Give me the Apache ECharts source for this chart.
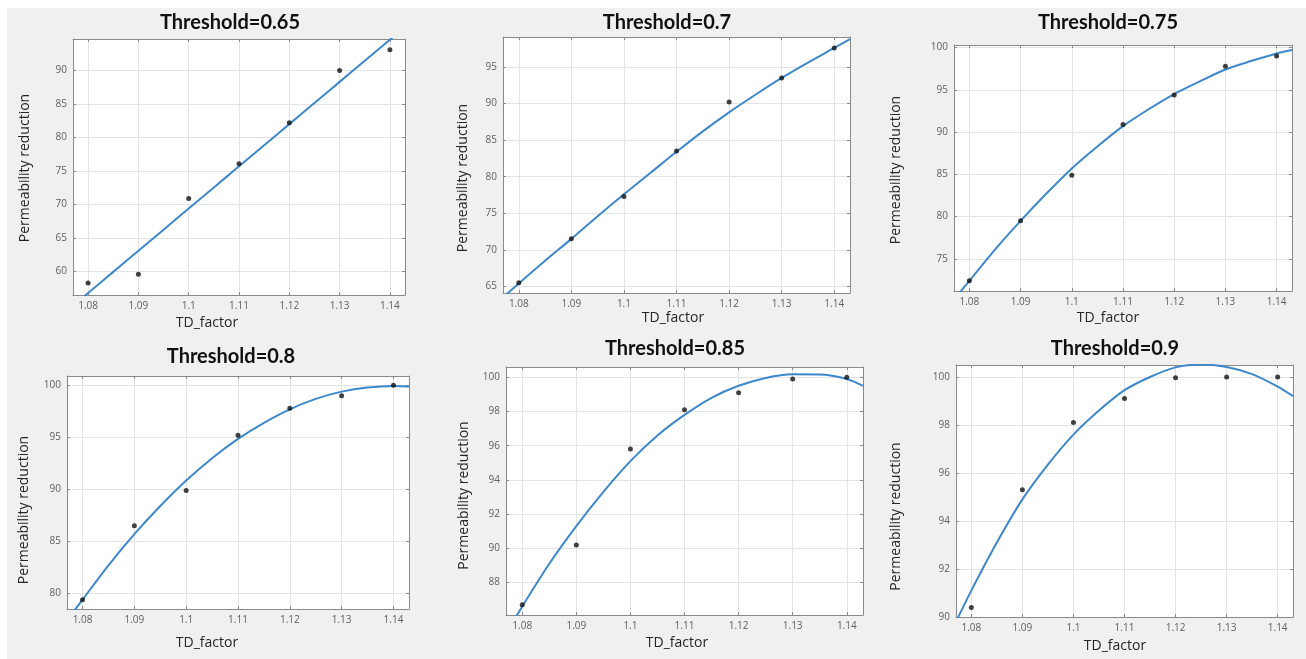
<!DOCTYPE html>
<html>
<head>
<meta charset="utf-8">
<script src="https://cdn.jsdelivr.net/npm/echarts@6/dist/echarts.min.js"></script>
<style>
html,body{margin:0;padding:0;background:#fff;}
#chart{width:1306px;height:659px;}
</style>
</head>
<body>
<div id="chart"></div>
<script>
// ---- data ----
const tdFactor = [1.08, 1.09, 1.10, 1.11, 1.12, 1.13, 1.14];
const xTicks = [1.08, 1.09, 1.10, 1.11, 1.12, 1.13, 1.14];
const xRange = [1.077, 1.143];
const titles = ['Threshold=0.65', 'Threshold=0.7', 'Threshold=0.75', 'Threshold=0.8', 'Threshold=0.85', 'Threshold=0.9'];
const xAxisName = 'TD_factor';
const yAxisName = 'Permeability reduction';

// measured points
const points065 = [58.3, 59.6, 70.9, 76.1, 82.2, 90.0, 93.1];
const points070 = [65.5, 71.5, 77.3, 83.5, 90.2, 93.5, 97.6];
const points075 = [72.4, 79.5, 84.9, 90.9, 94.4, 97.8, 99.0];
const points080 = [79.4, 86.5, 89.9, 95.2, 97.8, 99.0, 100.0];
const points085 = [86.7, 90.2, 95.8, 98.1, 99.1, 99.9, 100.0];
const points090 = [90.4, 95.3, 98.1, 99.1, 99.97, 100.0, 100.0];

// fitted curves at these x values
const fitX = [1.077, 1.08, 1.085, 1.09, 1.095, 1.10, 1.105, 1.11, 1.115, 1.12, 1.125, 1.13, 1.135, 1.14, 1.143];
const fit065 = [54.9, 56.8, 59.95, 63.1, 66.25, 69.4, 72.55, 75.7, 78.85, 82.0, 85.15, 88.3, 91.45, 94.6, 96.5];
const fit070 = [63.5, 65.4, 68.5, 71.5, 74.6, 77.6, 80.5, 83.4, 86.2, 88.8, 91.2, 93.5, 95.6, 97.6, 98.8];
const fit075 = [70.2, 72.4, 76.1, 79.5, 82.7, 85.7, 88.3, 90.7, 92.7, 94.5, 96.0, 97.4, 98.4, 99.3, 99.7];
const fit080 = [77.4, 79.4, 82.7, 85.7, 88.4, 90.85, 93.0, 94.85, 96.4, 97.7, 98.7, 99.4, 99.8, 99.95, 99.9];
const fit085 = [85.0, 86.6, 89.1, 91.3, 93.3, 95.1, 96.6, 97.8, 98.8, 99.5, 99.96, 100.17, 100.16, 99.9, 99.5];
const fit090 = [89.8, 91.1, 93.1, 94.9, 96.35, 97.6, 98.6, 99.45, 100.0, 100.4, 100.52, 100.42, 100.12, 99.6, 99.2];

// y axis extents and tick labels
const yRange065 = [56.5, 94.7];
const yRange070 = [64.1, 99.1];
const yRange075 = [71.2, 100.3];
const yRange080 = [78.5, 100.9];
const yRange085 = [86.1, 100.6];
const yRange090 = [90, 100.5];
const yTicks065 = [60, 65, 70, 75, 80, 85, 90];
const yTicks070 = [65, 70, 75, 80, 85, 90, 95];
const yTicks075 = [75, 80, 85, 90, 95, 100];
const yTicks080 = [80, 85, 90, 95, 100];
const yTicks085 = [88, 90, 92, 94, 96, 98, 100];
const yTicks090 = [90, 92, 94, 96, 98, 100];

const panelPoints = [points065, points070, points075, points080, points085, points090];
const panelFits = [fit065, fit070, fit075, fit080, fit085, fit090];
const panelYRange = [yRange065, yRange070, yRange075, yRange080, yRange085, yRange090];
const panelYTicks = [yTicks065, yTicks070, yTicks075, yTicks080, yTicks085, yTicks090];

// ---- layout (pixels) ----
const layout = [
  {grid: [73, 39, 332, 256], title: [230, 22.5], xName: [207, 322.7], yName: [25, 168]},
  {grid: [503, 37, 347, 256], title: [667, 22.5], xName: [673, 318.3], yName: [463, 178]},
  {grid: [954, 45, 338, 246], title: [1108, 22.8], xName: [1108, 318.3], yName: [896, 170]},
  {grid: [67, 376, 342, 233], title: [231, 356.7], xName: [207, 642.7], yName: [24.5, 510]},
  {grid: [506, 367, 357, 248], title: [675, 349], xName: [677, 642.7], yName: [463.7, 495.5]},
  {grid: [956, 365, 337, 252], title: [1115, 349], xName: [1115, 646], yName: [896, 516.5]}
];

const boxColor = '#8a8a8a';
const gridLineColor = '#e4e4e4';
const tickLabelColor = '#606060';
const fitColor = '#3d88cc';

const grids = [], xAxes = [], yAxes = [], series = [], titleList = [];
const graphics = [{
  type: 'rect', z: -10, silent: true,
  shape: {x: 7, y: 8, width: 1299, height: 651},
  style: {fill: '#f0f0f0'}
}];

layout.forEach((L, i) => {
  const [gl, gt, gw, gh] = L.grid;
  grids.push({left: gl, top: gt, width: gw, height: gh, show: true,
    backgroundColor: '#ffffff', borderWidth: 0, containLabel: false});
  const yr = panelYRange[i], yt = panelYTicks[i];
  const common = {type: 'value', gridIndex: i, scale: true};
  xAxes.push(Object.assign({}, common, {
    position: 'bottom', min: xRange[0], max: xRange[1], splitNumber: 6,
    axisLine: {show: true, onZero: false, lineStyle: {color: boxColor, width: 1}},
    axisTick: {show: true, inside: true, length: 3, customValues: xTicks, lineStyle: {color: boxColor}},
    axisLabel: {show: true, customValues: xTicks, margin: 6, color: tickLabelColor,
      fontSize: 10, fontFamily: 'Open Sans'},
    splitLine: {show: true, lineStyle: {color: gridLineColor, width: 1}}
  }));
  xAxes.push(Object.assign({}, common, {
    position: 'top', min: xRange[0], max: xRange[1], splitNumber: 6,
    axisLine: {show: true, onZero: false, lineStyle: {color: boxColor, width: 1}},
    axisTick: {show: true, inside: true, length: 3, customValues: xTicks, lineStyle: {color: boxColor}},
    axisLabel: {show: false},
    splitLine: {show: false}
  }));
  yAxes.push(Object.assign({}, common, {
    position: 'left', min: yr[0], max: yr[1], splitNumber: yt.length,
    axisLine: {show: true, onZero: false, lineStyle: {color: boxColor, width: 1}},
    axisTick: {show: true, inside: true, length: 3, customValues: yt, lineStyle: {color: boxColor}},
    axisLabel: {show: true, customValues: yt, margin: 6, color: tickLabelColor,
      fontSize: 10, fontFamily: 'Open Sans'},
    splitLine: {show: true, lineStyle: {color: gridLineColor, width: 1}}
  }));
  yAxes.push(Object.assign({}, common, {
    position: 'right', min: yr[0], max: yr[1], splitNumber: yt.length,
    axisLine: {show: true, onZero: false, lineStyle: {color: boxColor, width: 1}},
    axisTick: {show: true, inside: true, length: 3, customValues: yt, lineStyle: {color: boxColor}},
    axisLabel: {show: false},
    splitLine: {show: false}
  }));

  series.push({
    type: 'line', xAxisIndex: 2 * i, yAxisIndex: 2 * i,
    data: fitX.map((x, k) => [x, panelFits[i][k]]),
    smooth: 0.3, showSymbol: false, clip: true, z: 2,
    lineStyle: {color: fitColor, width: 2}
  });
  series.push({
    type: 'scatter', xAxisIndex: 2 * i, yAxisIndex: 2 * i,
    data: tdFactor.map((x, k) => [x, panelPoints[i][k]]),
    symbol: 'circle', symbolSize: 5, z: 3,
    itemStyle: {color: '#111111'}
  });

  titleList.push({
    text: titles[i], left: L.title[0], top: L.title[1],
    textAlign: 'center', textVerticalAlign: 'middle', padding: 0,
    textStyle: {fontFamily: 'Lato', fontWeight: 'bold', fontSize: 20, color: '#111111'}
  });

  graphics.push({
    type: 'text', x: L.xName[0], y: L.xName[1], silent: true,
    style: {text: xAxisName, fontFamily: 'Open Sans', fontSize: 14, fill: '#262626',
      align: 'center', verticalAlign: 'middle'}
  });
  graphics.push({
    type: 'text', x: L.yName[0], y: L.yName[1], rotation: Math.PI / 2, silent: true,
    style: {text: yAxisName, fontFamily: 'Open Sans', fontSize: 14, fill: '#262626',
      align: 'center', verticalAlign: 'middle'}
  });
});

const chart = echarts.init(document.getElementById('chart'), null, {renderer: 'canvas'});
chart.setOption({
  backgroundColor: '#ffffff',
  animation: false,
  title: titleList,
  grid: grids,
  xAxis: xAxes,
  yAxis: yAxes,
  series: series,
  graphic: graphics
});
</script>
</body>
</html>
